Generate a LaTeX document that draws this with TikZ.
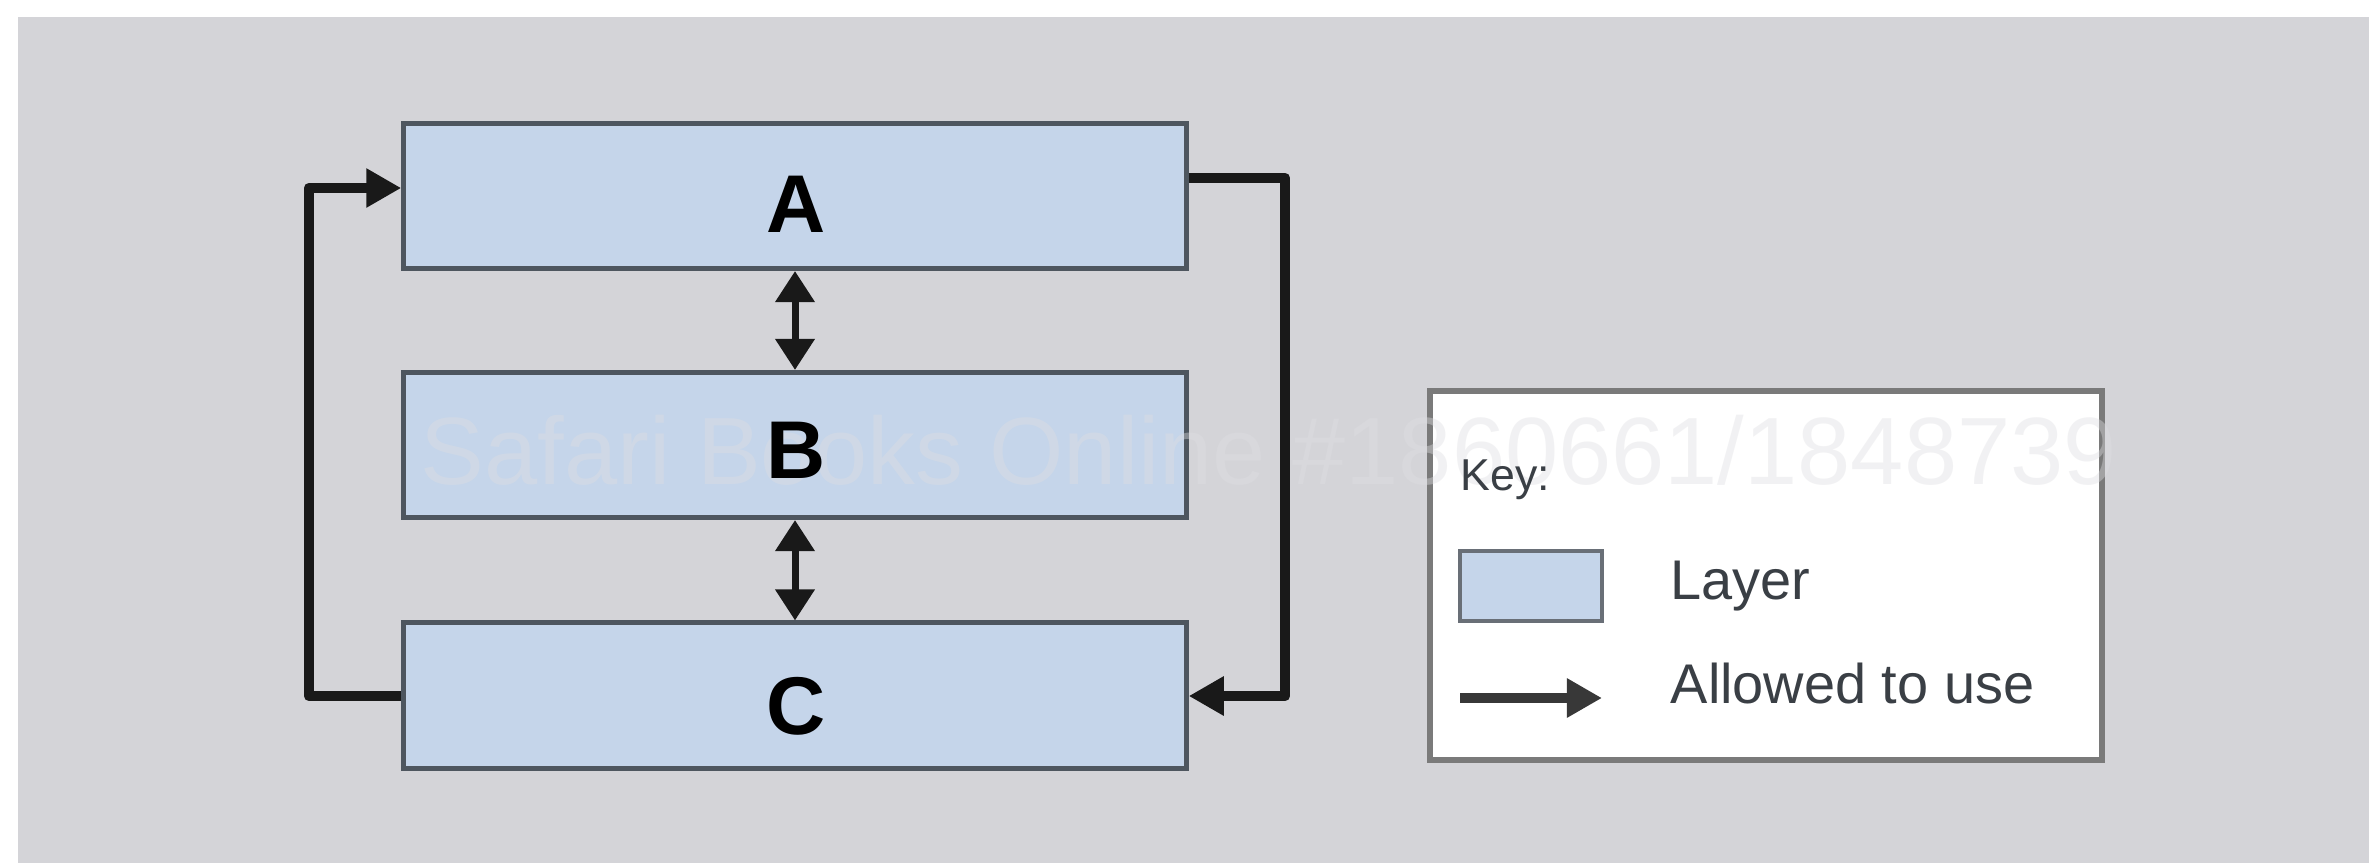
\documentclass[tikz,border=0pt]{standalone}
\usepackage{fontspec}
\setmainfont{Liberation Sans}
\usetikzlibrary{arrows.meta}
\definecolor{bggray}{RGB}{212,212,216}
\definecolor{layerblue}{RGB}{197,213,234}
\definecolor{layeredge}{RGB}{78,86,95}
\definecolor{keyedge}{RGB}{122,122,122}
\definecolor{keytext}{RGB}{58,63,69}
\definecolor{wmark}{RGB}{222,222,226}
\tikzset{
  layerbox/.style={draw=layeredge, fill=layerblue, line width=0.05cm,
    minimum width=7.82cm, minimum height=1.45cm, inner sep=0pt},
  conn/.style={draw=black!90, line width=0.105cm, line join=round,
    -{Triangle[length=0.35cm,width=0.37cm]}},
  updown/.style={draw=black!90, line width=0.07cm,
    {Triangle[length=0.31cm,width=0.38cm]}-{Triangle[length=0.31cm,width=0.38cm]}},
  lbl/.style={anchor=base, inner sep=0pt, font=\fontsize{23.3pt}{28pt}\selectfont\bfseries, text=black},
  keylbl/.style={anchor=base west, inner sep=0pt, font=\fontsize{15.9pt}{19pt}\selectfont, text=keytext},
}
\begin{document}
\begin{tikzpicture}[x=0.01cm, y=-0.01cm]
\useasboundingbox[fill=white] (0,0) rectangle (2369,863);
\fill[bggray] (18,17) rectangle (2369,863);
% layers
\node[layerbox] (A) at (795,196) {};
\node[layerbox] (B) at (795,445) {};
\node[layerbox] (C) at (795,695.5) {};
% key box
\node[draw=keyedge, fill=white, line width=0.065cm, minimum width=6.72cm, minimum height=3.69cm, inner sep=0pt] (key) at (1766,575.5) {};
% connectors
\coordinate (lt) at (309,188);
\coordinate (lb) at (309,696);
\coordinate (rt) at (1285,178);
\coordinate (rb) at (1285,696);
\draw[conn] (C.west |- lb) -- (lb) -- (lt) -- (A.west |- lt);
\draw[conn] (A.east |- rt) -- (rt) -- (rb) -- (C.east |- rb);
\draw[updown] (A.south) -- (B.north);
\draw[updown] (B.south) -- (C.north);
% watermark
\node[anchor=base west, inner sep=0pt, text=wmark, opacity=0.4,
  font=\fontsize{27.2pt}{32pt}\selectfont] (wm) at (420,484) {Safari Books Online \#1860661/1848739};
% layer labels
\node[lbl] (la) at (796,232) {A};
\node[lbl] (lbB) at (796,478) {B};
\node[lbl] (lc) at (796,734) {C};
% key contents
\node[anchor=base west, inner sep=0pt, font=\fontsize{12.7pt}{15pt}\selectfont, text=keytext] (keyt) at (1460,490) {Key:};
\node[draw=layeredge!85, fill=layerblue, line width=0.04cm, minimum width=1.42cm, minimum height=0.70cm, inner sep=0pt] (ksw) at (1531,586) {};
\node[keylbl] (klayer) at (1670,599) {Layer};
\coordinate (ka1) at (1460,698);
\coordinate (ka2) at (1602,698);
\draw[conn, draw=black!78] (ka1) -- (ka2);
\node[keylbl] (kallow) at (1670,703) {Allowed to use};
\end{tikzpicture}
\end{document}
